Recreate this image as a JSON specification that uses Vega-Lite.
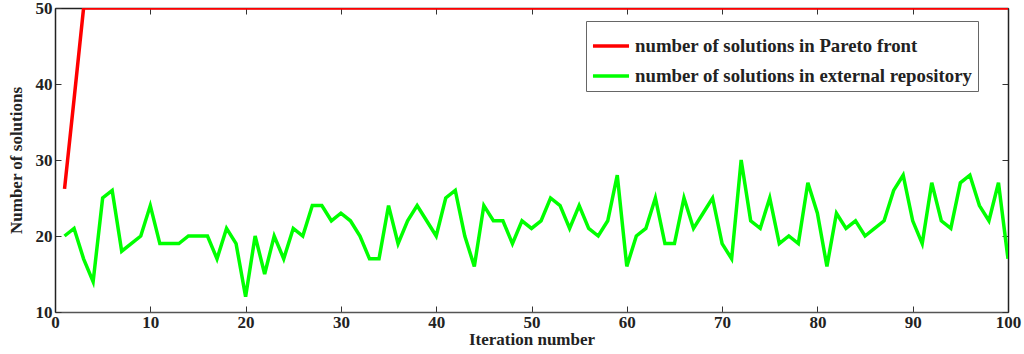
{
  "$schema": "https://vega.github.io/schema/vega-lite/v6.json",
  "width": 953,
  "height": 304,
  "autosize": {"type": "none"},
  "padding": {"left": 55, "top": 8, "right": 16, "bottom": 42},
  "background": "white",
  "config": {
    "font": "Liberation Serif",
    "view": {"stroke": null},
    "axis": {"grid": false, "labelFont": "Liberation Serif", "titleFont": "Liberation Serif", "labelFontWeight": "bold", "titleFontWeight": "bold", "labelFontSize": 17, "titleFontSize": 17, "labelColor": "#222", "titleColor": "#222", "tickColor": "#333", "domainColor": "#555", "tickSize": -6, "domainWidth": 1.5}
  },
  "data": {"values": [
    {"it":1,"pareto":26.2,"repo":20},{"it":2,"pareto":38,"repo":21},{"it":3,"pareto":50,"repo":17},{"it":4,"pareto":50,"repo":14},{"it":5,"pareto":50,"repo":25},
    {"it":6,"pareto":50,"repo":26},{"it":7,"pareto":50,"repo":18},{"it":8,"pareto":50,"repo":19},{"it":9,"pareto":50,"repo":20},{"it":10,"pareto":50,"repo":24},
    {"it":11,"pareto":50,"repo":19},{"it":12,"pareto":50,"repo":19},{"it":13,"pareto":50,"repo":19},{"it":14,"pareto":50,"repo":20},{"it":15,"pareto":50,"repo":20},
    {"it":16,"pareto":50,"repo":20},{"it":17,"pareto":50,"repo":17},{"it":18,"pareto":50,"repo":21},{"it":19,"pareto":50,"repo":19},{"it":20,"pareto":50,"repo":12},
    {"it":21,"pareto":50,"repo":20},{"it":22,"pareto":50,"repo":15},{"it":23,"pareto":50,"repo":20},{"it":24,"pareto":50,"repo":17},{"it":25,"pareto":50,"repo":21},
    {"it":26,"pareto":50,"repo":20},{"it":27,"pareto":50,"repo":24},{"it":28,"pareto":50,"repo":24},{"it":29,"pareto":50,"repo":22},{"it":30,"pareto":50,"repo":23},
    {"it":31,"pareto":50,"repo":22},{"it":32,"pareto":50,"repo":20},{"it":33,"pareto":50,"repo":17},{"it":34,"pareto":50,"repo":17},{"it":35,"pareto":50,"repo":24},
    {"it":36,"pareto":50,"repo":19},{"it":37,"pareto":50,"repo":22},{"it":38,"pareto":50,"repo":24},{"it":39,"pareto":50,"repo":22},{"it":40,"pareto":50,"repo":20},
    {"it":41,"pareto":50,"repo":25},{"it":42,"pareto":50,"repo":26},{"it":43,"pareto":50,"repo":20},{"it":44,"pareto":50,"repo":16},{"it":45,"pareto":50,"repo":24},
    {"it":46,"pareto":50,"repo":22},{"it":47,"pareto":50,"repo":22},{"it":48,"pareto":50,"repo":19},{"it":49,"pareto":50,"repo":22},{"it":50,"pareto":50,"repo":21},
    {"it":51,"pareto":50,"repo":22},{"it":52,"pareto":50,"repo":25},{"it":53,"pareto":50,"repo":24},{"it":54,"pareto":50,"repo":21},{"it":55,"pareto":50,"repo":24},
    {"it":56,"pareto":50,"repo":21},{"it":57,"pareto":50,"repo":20},{"it":58,"pareto":50,"repo":22},{"it":59,"pareto":50,"repo":28},{"it":60,"pareto":50,"repo":16},
    {"it":61,"pareto":50,"repo":20},{"it":62,"pareto":50,"repo":21},{"it":63,"pareto":50,"repo":25},{"it":64,"pareto":50,"repo":19},{"it":65,"pareto":50,"repo":19},
    {"it":66,"pareto":50,"repo":25},{"it":67,"pareto":50,"repo":21},{"it":68,"pareto":50,"repo":23},{"it":69,"pareto":50,"repo":25},{"it":70,"pareto":50,"repo":19},
    {"it":71,"pareto":50,"repo":17},{"it":72,"pareto":50,"repo":30},{"it":73,"pareto":50,"repo":22},{"it":74,"pareto":50,"repo":21},{"it":75,"pareto":50,"repo":25},
    {"it":76,"pareto":50,"repo":19},{"it":77,"pareto":50,"repo":20},{"it":78,"pareto":50,"repo":19},{"it":79,"pareto":50,"repo":27},{"it":80,"pareto":50,"repo":23},
    {"it":81,"pareto":50,"repo":16},{"it":82,"pareto":50,"repo":23},{"it":83,"pareto":50,"repo":21},{"it":84,"pareto":50,"repo":22},{"it":85,"pareto":50,"repo":20},
    {"it":86,"pareto":50,"repo":21},{"it":87,"pareto":50,"repo":22},{"it":88,"pareto":50,"repo":26},{"it":89,"pareto":50,"repo":28},{"it":90,"pareto":50,"repo":22},
    {"it":91,"pareto":50,"repo":19},{"it":92,"pareto":50,"repo":27},{"it":93,"pareto":50,"repo":22},{"it":94,"pareto":50,"repo":21},{"it":95,"pareto":50,"repo":27},
    {"it":96,"pareto":50,"repo":28},{"it":97,"pareto":50,"repo":24},{"it":98,"pareto":50,"repo":22},{"it":99,"pareto":50,"repo":27},{"it":100,"pareto":50,"repo":17}
  ]},
  "transform": [{"fold": ["pareto", "repo"], "as": ["series", "value"]}],
  "layer": [
    {
      "mark": {"type": "line", "strokeWidth": 3.5, "clip": true},
      "encoding": {
        "x": {"field": "it", "type": "quantitative", "scale": {"domain": [0, 100], "nice": false}, "axis": {"orient": "bottom", "title": "Iteration number", "values": [0,10,20,30,40,50,60,70,80,90,100], "labelPadding": 8, "titlePadding": 1, "labelFlush": false}},
        "y": {"field": "value", "type": "quantitative", "scale": {"domain": [10, 50], "nice": false, "zero": false}, "axis": {"orient": "left", "title": "Number of solutions", "values": [10,20,30,40,50], "labelPadding": 9, "titlePadding": 10, "domainColor": "#222"}},
        "color": {"field": "series", "type": "nominal",
          "scale": {"domain": ["pareto", "repo"], "range": ["#ff0000", "#00ff00"]},
          "legend": {"orient": "none", "legendX": 531, "legendY": 13, "title": null,
            "labelExpr": "datum.value == 'pareto' ? 'number of solutions in Pareto front' : 'number of solutions in external repository'",
            "symbolType": "stroke", "symbolSize": 1300, "symbolStrokeWidth": 3.5,
            "labelFont": "Liberation Serif", "labelFontWeight": "bold", "labelFontSize": 18.8, "labelColor": "#222", "labelLimit": 0,
            "strokeColor": "#666", "fillColor": "white", "padding": 5, "rowPadding": -11, "labelOffset": 4, "symbolOffset": 0}
        }
      }
    },
    {
      "mark": {"type": "line", "strokeOpacity": 0},
      "encoding": {
        "x": {"field": "it", "type": "quantitative", "axis": {"orient": "top", "title": null, "labels": false, "values": [0,10,20,30,40,50,60,70,80,90,100], "domainColor": "#222"}},
        "y": {"field": "value", "type": "quantitative", "axis": {"orient": "right", "title": null, "labels": false, "values": [10,20,30,40,50], "domainColor": "#222"}},
        "detail": {"field": "series"}
      }
    }
  ],
  "resolve": {"axis": {"x": "independent", "y": "independent"}}
}
